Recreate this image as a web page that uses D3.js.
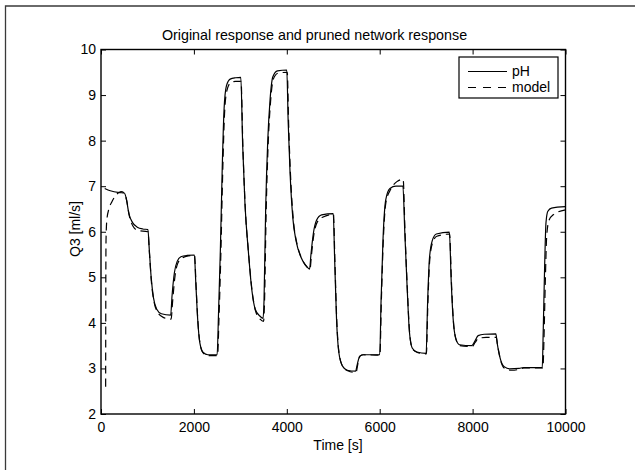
<!DOCTYPE html>
<html>
<head>
<meta charset="utf-8">
<script src="https://cdn.jsdelivr.net/npm/d3@7"></script>
<style>
  body { margin: 0; background: #fff; }
  text { font-family: "Liberation Sans", Arial, Helvetica, sans-serif; fill: #000; }
</style>
</head>
<body>
<div id="chart"></div>
<script>
const width = 635;
const height = 470;

// chart data
const phTime = [80, 200, 400, 500, 540, 600, 680, 780, 900, 1010, 1040, 1080, 1130, 1200, 1300, 1500,
  1530, 1580, 1640, 1720, 1850, 2010, 2040, 2080, 2130, 2200, 2300, 2500, 2530, 2570, 2610, 2650,
  2700, 2780, 2900, 3010, 3050, 3100, 3170, 3250, 3320, 3420, 3490, 3510, 3545, 3590, 3640, 3700,
  3800, 4000, 4030, 4070, 4130, 4200, 4300, 4420, 4490, 4520, 4570, 4640, 4750, 5000, 5030, 5070,
  5120, 5200, 5300, 5480, 5520, 5570, 5650, 6000, 6030, 6070, 6130, 6220, 6350, 6500, 6540, 6590,
  6640, 6700, 6800, 7000, 7030, 7070, 7130, 7220, 7500, 7540, 7580, 7640, 7720, 7980, 8050, 8120,
  8250, 8500, 8530, 8600, 8680, 8800, 9000, 9100, 9500, 9520, 9550, 9580, 9620, 9700, 10000];
const phValue = [6.95, 6.9, 6.86, 6.85, 6.75, 6.4, 6.2, 6.1, 6.06, 6.05, 5.6, 5.0, 4.55, 4.3, 4.2, 4.17,
  4.6, 5.1, 5.35, 5.45, 5.48, 5.49, 4.9, 4.1, 3.55, 3.35, 3.3, 3.3, 4.2, 5.6, 7.4, 8.7,
  9.2, 9.35, 9.38, 9.39, 7.9, 6.6, 5.6, 4.7, 4.3, 4.15, 4.1, 4.5, 6.5, 8.0, 8.9, 9.4,
  9.53, 9.55, 8.4, 7.3, 6.3, 5.8, 5.45, 5.25, 5.18, 5.5, 5.95, 6.25, 6.37, 6.4, 5.4, 4.1,
  3.35, 3.05, 2.96, 2.94, 3.1, 3.27, 3.3, 3.3, 4.5, 5.8, 6.7, 6.95, 7.0, 7.0, 6.0, 4.8,
  3.8, 3.45, 3.36, 3.33, 4.4, 5.4, 5.8, 5.95, 5.99, 4.9, 4.1, 3.65, 3.52, 3.5, 3.6, 3.72,
  3.75, 3.76, 3.55, 3.2, 3.04, 2.99, 3.0, 3.02, 3.02, 3.8, 5.2, 6.2, 6.45, 6.52, 6.55];

const modelTime = [100, 103, 108, 125, 170, 230, 320, 430, 500, 550, 610, 690, 790, 1010, 1045, 1085,
  1135, 1210, 1340, 1510, 1540, 1590, 1650, 1740, 1880, 2015, 2045, 2085, 2135, 2205, 2300, 2510,
  2540, 2580, 2620, 2660, 2710, 2790, 2900, 3015, 3055, 3105, 3175, 3255, 3325, 3425, 3500, 3520,
  3555, 3600, 3650, 3710, 3810, 4010, 4040, 4080, 4140, 4210, 4310, 4430, 4500, 4530, 4580, 4650,
  4770, 5005, 5035, 5075, 5125, 5205, 5310, 5490, 5530, 5580, 5655, 6005, 6035, 6075, 6135, 6230,
  6370, 6505, 6545, 6595, 6645, 6705, 6810, 7005, 7035, 7075, 7135, 7230, 7505, 7545, 7585, 7645,
  7725, 7985, 8055, 8125, 8290, 8510, 8540, 8610, 8690, 8840, 9000, 9100, 9515, 9535, 9565, 9595,
  9645, 9745, 10000];
const modelValue = [2.6, 4.5, 5.8, 6.25, 6.5, 6.65, 6.8, 6.88, 6.85, 6.7, 6.35, 6.12, 6.03, 6.0, 5.5, 4.9,
  4.5, 4.25, 4.12, 4.08, 4.45, 5.0, 5.3, 5.42, 5.47, 5.48, 4.85, 4.05, 3.52, 3.33, 3.28, 3.28,
  4.1, 5.5, 7.3, 8.6, 9.1, 9.27, 9.3, 9.3, 7.85, 6.55, 5.55, 4.68, 4.27, 4.08, 4.03, 4.45,
  6.4, 7.95, 8.85, 9.35, 9.48, 9.5, 8.35, 7.25, 6.27, 5.78, 5.44, 5.23, 5.18, 5.48, 5.92, 6.2,
  6.32, 6.38, 5.38, 4.07, 3.34, 3.04, 2.95, 2.91, 3.1, 3.27, 3.3, 3.29, 4.45, 5.75, 6.65, 6.92,
  7.1, 7.15, 6.0, 4.75, 3.78, 3.43, 3.35, 3.32, 4.35, 5.35, 5.75, 5.9, 5.95, 4.88, 4.07, 3.63,
  3.5, 3.48, 3.57, 3.66, 3.68, 3.68, 3.5, 3.15, 3.0, 2.96, 2.98, 3.01, 3.01, 3.6, 4.9, 5.9,
  6.25, 6.38, 6.48];

const xTicks = [0, 2000, 4000, 6000, 8000, 10000];
const yTicks = [2, 3, 4, 5, 6, 7, 8, 9, 10];
const seriesNames = ['pH', 'model'];

const titleText = 'Original response and pruned network response';
const xLabel = 'Time [s]';
const yLabel = 'Q3 [ml/s]';

const margin = {left: 101, right: 69.5, top: 49.5, bottom: 56};
const plotW = width - margin.left - margin.right;
const plotH = height - margin.top - margin.bottom;

const svg = d3.select('#chart')
  .append('svg')
  .attr('width', width)
  .attr('height', height);

svg.append('rect')
  .attr('width', width).attr('height', height)
  .attr('fill', '#fff');

// outer frame (only left and top edges are visible in the picture)
svg.append('path')
  .attr('d', 'M5.5,' + height + 'V6H' + width)
  .attr('fill', 'none')
  .attr('stroke', '#3a3a3a')
  .attr('stroke-width', 1.3);

const g = svg.append('g')
  .attr('transform', 'translate(' + margin.left + ',' + margin.top + ')');

const xScale = d3.scaleLinear().domain([0, 10000]).range([0, plotW]);
const yScale = d3.scaleLinear().domain([2, 10]).range([plotH, 0]);

const fontSize = 14;

function styleAxis(sel, noLabels) {
  sel.select('.domain').remove();
  sel.selectAll('.tick line').attr('stroke', '#000').attr('stroke-width', 1);
  sel.selectAll('.tick text')
    .style('font-size', fontSize + 'px')
    .style('font-family', '"Liberation Sans", Arial, sans-serif')
    .attr('fill', '#000');
  if (noLabels) sel.selectAll('.tick text').remove();
}

g.append('g')
  .attr('transform', 'translate(0,' + plotH + ')')
  .call(d3.axisBottom(xScale).tickValues(xTicks).tickFormat(d3.format('d')).tickSize(-5).tickPadding(8))
  .call(styleAxis, false);

g.append('g')
  .call(d3.axisTop(xScale).tickValues(xTicks).tickSize(-5))
  .call(styleAxis, true);

g.append('g')
  .call(d3.axisLeft(yScale).tickValues(yTicks).tickFormat(d3.format('d')).tickSize(-5).tickPadding(5))
  .call(styleAxis, false);

g.append('g')
  .attr('transform', 'translate(' + plotW + ',0)')
  .call(d3.axisRight(yScale).tickValues(yTicks).tickSize(-5))
  .call(styleAxis, true);

const phData = phTime.map(function(t, i){ return {t: t, v: phValue[i]}; });
const modelData = modelTime.map(function(t, i){ return {t: t, v: modelValue[i]}; });

const line = d3.line()
  .x(function(d){ return xScale(d.t); })
  .y(function(d){ return yScale(d.v); })
  .curve(d3.curveMonotoneX);

g.append('path')
  .datum(phData)
  .attr('d', line)
  .attr('fill', 'none')
  .attr('stroke', '#000')
  .attr('stroke-width', 1.2);

g.append('path')
  .datum(modelData)
  .attr('d', line)
  .attr('fill', 'none')
  .attr('stroke', '#000')
  .attr('stroke-width', 1.2)
  .attr('stroke-dasharray', '8,5');

// axes box
g.append('rect')
  .attr('width', plotW)
  .attr('height', plotH)
  .attr('fill', 'none')
  .attr('stroke', '#000')
  .attr('stroke-width', 1.4);

// legend
const legend = svg.append('g').attr('transform', 'translate(459,57)');
legend.append('rect')
  .attr('width', 99).attr('height', 41)
  .attr('fill', '#fff')
  .attr('stroke', '#000')
  .attr('stroke-width', 1.2);

legend.selectAll('.legend_line')
  .data(seriesNames)
  .enter()
  .append('line')
  .attr('class', 'legend_line')
  .attr('x1', 9).attr('x2', 48)
  .attr('y1', function(d, i){ return 14.5 + i * 16; })
  .attr('y2', function(d, i){ return 14.5 + i * 16; })
  .attr('stroke', '#000')
  .attr('stroke-width', 1.2)
  .attr('stroke-dasharray', function(d, i){ return i === 0 ? null : '8,7'; });

legend.selectAll('.legend_text')
  .data(seriesNames)
  .enter()
  .append('text')
  .attr('class', 'legend_text')
  .attr('x', 53)
  .attr('y', function(d, i){ return 14.5 + i * 16; })
  .attr('dy', '0.35em')
  .style('font-size', fontSize + 'px')
  .text(function(d){ return d; });

svg.append('text')
  .attr('x', 314.5)
  .attr('y', 39.5)
  .attr('text-anchor', 'middle')
  .style('font-size', '14.3px')
  .text(titleText);

svg.append('text')
  .attr('x', 338)
  .attr('y', 449.5)
  .attr('text-anchor', 'middle')
  .style('font-size', fontSize + 'px')
  .text(xLabel);

svg.append('text')
  .attr('transform', 'translate(79.5,229) rotate(-90)')
  .attr('text-anchor', 'middle')
  .style('font-size', fontSize + 'px')
  .text(yLabel);
</script>
</body>
</html>
